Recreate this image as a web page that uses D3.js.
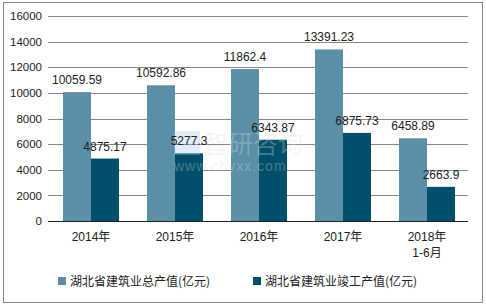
<!DOCTYPE html>
<html>
<head>
<meta charset="utf-8">
<script src="https://cdn.jsdelivr.net/npm/d3@7.9.0/dist/d3.min.js"></script>
<style>
  body { margin: 0; background: #fff; }
  svg { display: block; font-family: "Liberation Sans", Arial, "Noto Sans CJK SC", sans-serif; }
</style>
</head>
<body>
<svg id="chart" width="486" height="306"></svg>
<script>
// categories and series
const years = ["2014年", "2015年", "2016年", "2017年", "2018年\n1-6月"];
const totalOutput = [10059.59, 10592.86, 11862.4, 13391.23, 6458.89];
const finishedOutput = [4875.17, 5277.3, 6343.87, 6875.73, 2663.9];
const seriesNames = ["湖北省建筑业总产值(亿元)", "湖北省建筑业竣工产值(亿元)"];
const yTicks = [0, 2000, 4000, 6000, 8000, 10000, 12000, 14000, 16000];

const colors = ["#5b8fa8", "#00506b"];

const svg = d3.select("#chart");
const margin = { left: 48, right: 18, top: 16, bottom: 85 };
const W = 486, H = 306;

// outer border
svg.append("rect")
   .attr("x", 3.5).attr("y", 2.5)
   .attr("width", 479).attr("height", 300)
   .attr("fill", "none").attr("stroke", "#888");

const x = d3.scaleBand()
    .domain(years)
    .range([margin.left, W - margin.right]);

const y = d3.scaleLinear()
    .domain([0, 16000])
    .range([H - margin.bottom, margin.top]);

// gridlines
svg.append("g").selectAll("line")
   .data(yTicks.filter(d => d > 0))
   .join("line")
   .attr("x1", margin.left).attr("x2", W - margin.right)
   .attr("y1", d => Math.round(y(d)) + 0.5).attr("y2", d => Math.round(y(d)) + 0.5)
   .attr("stroke", "#888");

// y axis labels
const yAxis = d3.axisLeft(y).tickValues(yTicks).tickFormat(d3.format("d")).tickSize(0).tickPadding(6);
svg.append("g")
   .attr("transform", `translate(${margin.left},0)`)
   .call(yAxis)
   .call(g => g.select(".domain").remove())
   .call(g => g.selectAll("text").attr("font-size", 11.5).attr("fill", "#222")
      .attr("font-family", "'Liberation Sans', Arial, sans-serif"));

const barW = 28;
const series = [totalOutput, finishedOutput];

series.forEach((vals, s) => {
  const g = svg.append("g");
  g.selectAll("rect")
   .data(vals)
   .join("rect")
   .attr("x", (d, i) => x(years[i]) + x.bandwidth() / 2 - barW + s * barW + 1)
   .attr("y", d => y(d))
   .attr("width", barW)
   .attr("height", d => y(0) - y(d))
   .attr("fill", colors[s]);
});

// watermark (over the bars, under the labels)
const wm = svg.append("g").attr("opacity", 0.3);
wm.append("rect").attr("x", 174).attr("y", 131).attr("width", 26).attr("height", 24).attr("fill", "#9cc3ea");
wm.append("text").attr("x", 203).attr("y", 153).attr("font-size", 25).attr("fill", "#ddd")
  .attr("font-family", "'Noto Sans CJK SC', sans-serif").text("智研咨询");
wm.append("text").attr("x", 174).attr("y", 171).attr("font-size", 14).attr("fill", "#ddd")
  .attr("letter-spacing", 1).text("www.chyxx.com");

series.forEach((vals, s) => {
  svg.append("g").selectAll("text")
   .data(vals)
   .join("text")
   .attr("x", (d, i) => x(years[i]) + x.bandwidth() / 2 - barW / 2 + s * barW + 1)
   .attr("y", d => y(d) - 8)
   .attr("text-anchor", "middle")
   .attr("font-size", 12)
   .attr("fill", "#222")
   .text(d => d);
});

// baseline axis
svg.append("line")
   .attr("x1", margin.left).attr("x2", W - margin.right)
   .attr("y1", Math.round(y(0)) + 0.5).attr("y2", Math.round(y(0)) + 0.5)
   .attr("stroke", "#222");

// x axis labels
const xl = svg.append("g");
years.forEach(c => {
  const lines = c.split("\n");
  const t = xl.append("text")
     .attr("x", x(c) + x.bandwidth() / 2 + 1)
     .attr("y", y(0) + 20)
     .attr("text-anchor", "middle")
     .attr("font-size", 12)
     .attr("fill", "#222");
  lines.forEach((ln, k) => {
    t.append("tspan")
     .attr("x", x(c) + x.bandwidth() / 2 + 1)
     .attr("dy", k === 0 ? 0 : 16)
     .text(ln);
  });
});

// legend
const legendX = [58, 253];
seriesNames.forEach((name, s) => {
  svg.append("rect")
     .attr("x", legendX[s]).attr("y", 277)
     .attr("width", 8).attr("height", 8)
     .attr("fill", colors[s]);
  svg.append("text")
     .attr("x", legendX[s] + 12).attr("y", 286)
     .attr("font-size", 12)
     .attr("fill", "#222")
     .attr("font-family", "'Noto Sans CJK SC', 'Liberation Sans', sans-serif")
     .text(name);
});
</script>
</body>
</html>
